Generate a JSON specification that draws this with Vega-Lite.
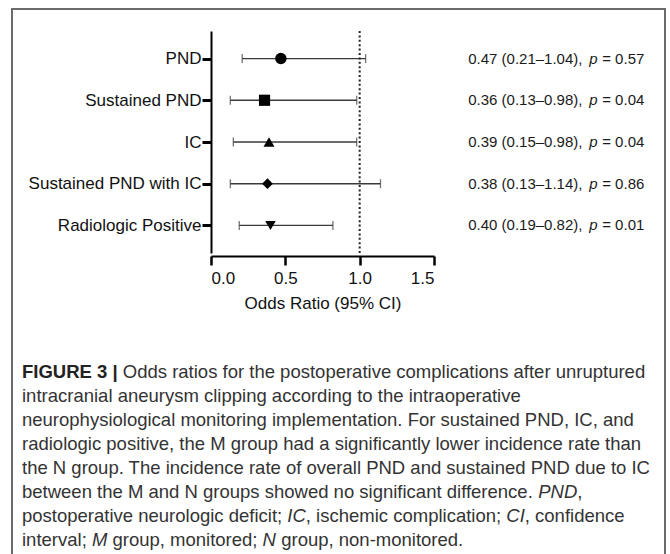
{
  "$schema": "https://vega.github.io/schema/vega-lite/v6.json",
  "width": 653,
  "height": 547,
  "autosize": {"type": "none"},
  "padding": {"left": 12, "top": 9, "right": 5, "bottom": -2},
  "background": "white",
  "config": {
    "view": {"stroke": "#6b6b6b", "strokeWidth": 2},
    "font": "Liberation Sans",
    "axis": {"grid": false}
  },
  "datasets": {
    "rows": [
      {"label": "PND", "or": 0.47, "lo": 0.21, "hi": 1.04, "ci": "0.47 (0.21–1.04),", "p": "= 0.57"},
      {"label": "Sustained PND", "or": 0.36, "lo": 0.13, "hi": 0.98, "ci": "0.36 (0.13–0.98),", "p": "= 0.04"},
      {"label": "IC", "or": 0.39, "lo": 0.15, "hi": 0.98, "ci": "0.39 (0.15–0.98),", "p": "= 0.04"},
      {"label": "Sustained PND with IC", "or": 0.38, "lo": 0.13, "hi": 1.14, "ci": "0.38 (0.13–1.14),", "p": "= 0.86"},
      {"label": "Radiologic Positive", "or": 0.40, "lo": 0.19, "hi": 0.82, "ci": "0.40 (0.19–0.82),", "p": "= 0.01"}
    ],
    "caption1": [
      {"line": 1, "bold": "FIGURE 3 |", "rest": "Odds ratios for the postoperative complications after unruptured"}
    ],
    "caption": [
      {"line": 2, "text": "intracranial aneurysm clipping according to the intraoperative"},
      {"line": 3, "text": "neurophysiological monitoring implementation. For sustained PND, IC, and"},
      {"line": 4, "text": "radiologic positive, the M group had a significantly lower incidence rate than"},
      {"line": 5, "text": "the N group. The incidence rate of overall PND and sustained PND due to IC"},
      {"line": 6, "text": "between the M and N groups showed no significant difference."},
      {"line": 7, "text": "postoperative neurologic deficit;"},
      {"line": 8, "text": "interval;"}
    ],
    "capseg": [
      {"line": 6, "seg": "a", "text": "PND"},
      {"line": 6, "seg": "b", "text": ","},
      {"line": 7, "seg": "a", "text": "IC"},
      {"line": 7, "seg": "b", "text": ", ischemic complication;"},
      {"line": 7, "seg": "c", "text": "CI"},
      {"line": 7, "seg": "d", "text": ", confidence"},
      {"line": 8, "seg": "a", "text": "M"},
      {"line": 8, "seg": "b", "text": "group, monitored;"},
      {"line": 8, "seg": "c", "text": "N"},
      {"line": 8, "seg": "d", "text": "group, non-monitored."}
    ]
  },
  "layer": [
    {
      "data": {"name": "rows"},
      "layer": [
        {
          "mark": {"type": "rule", "color": "#3a3a3a", "strokeWidth": 1.3},
          "encoding": {
            "y": {
              "field": "label", "type": "nominal",
              "scale": {"type": "point", "domain": ["PND", "Sustained PND", "IC", "Sustained PND with IC", "Radiologic Positive"], "range": [22, 244], "padding": 0.66},
              "axis": {"orient": "left", "offset": -199, "title": null, "domainColor": "black", "domainWidth": 2, "tickColor": "black", "tickWidth": 3, "tickSize": 9, "labelFontSize": 17, "labelColor": "#111", "labelPadding": 1, "labelFont": "Liberation Sans"}
            },
            "x": {
              "field": "lo", "type": "quantitative",
              "scale": {"domain": [0, 1.5], "range": [199, 422], "nice": false, "zero": false},
              "axis": {"orient": "bottom", "offset": -300, "values": [0, 0.5, 1.0, 1.5], "format": ".1f", "title": "Odds Ratio (95% CI)", "domainColor": "black", "domainWidth": 2, "tickColor": "black", "tickWidth": 2.5, "tickSize": 9, "labelFontSize": 17, "labelColor": "#111", "labelPadding": 5, "titleFontSize": 17, "titleFontWeight": "normal", "titleColor": "#111", "titlePadding": 9, "labelFont": "Liberation Sans", "titleFont": "Liberation Sans"}
            },
            "x2": {"field": "hi"}
          }
        },
        {
          "mark": {"type": "tick", "color": "#3a3a3a", "thickness": 1.3, "size": 9},
          "encoding": {
            "y": {"field": "label", "type": "nominal"},
            "x": {"field": "lo", "type": "quantitative"}
          }
        },
        {
          "mark": {"type": "tick", "color": "#3a3a3a", "thickness": 1.3, "size": 9},
          "encoding": {
            "y": {"field": "label", "type": "nominal"},
            "x": {"field": "hi", "type": "quantitative"}
          }
        },
        {
          "mark": {"type": "point", "filled": true, "color": "black", "opacity": 1},
          "encoding": {
            "y": {"field": "label", "type": "nominal"},
            "x": {"field": "or", "type": "quantitative"},
            "shape": {"field": "label", "type": "nominal", "scale": {"domain": ["PND", "Sustained PND", "IC", "Sustained PND with IC", "Radiologic Positive"], "range": ["circle", "square", "triangle-up", "diamond", "triangle-down"]}, "legend": null},
            "size": {"field": "label", "type": "nominal", "scale": {"domain": ["PND", "Sustained PND", "IC", "Sustained PND with IC", "Radiologic Positive"], "range": [130, 110, 115, 75, 115]}, "legend": null}
          }
        },
        {
          "mark": {"type": "text", "align": "left", "baseline": "middle", "fontSize": 15, "color": "#1a1a1a", "font": "Liberation Sans"},
          "encoding": {
            "y": {"field": "label", "type": "nominal"},
            "x": {"datum": 1.73, "type": "quantitative"},
            "text": {"field": "ci"}
          }
        },
        {
          "mark": {"type": "text", "align": "left", "baseline": "middle", "fontSize": 15, "fontStyle": "italic", "color": "#1a1a1a", "dx": 121, "font": "Liberation Sans"},
          "encoding": {
            "y": {"field": "label", "type": "nominal"},
            "x": {"datum": 1.73, "type": "quantitative"},
            "text": {"value": "p"}
          }
        },
        {
          "mark": {"type": "text", "align": "left", "baseline": "middle", "fontSize": 15, "color": "#1a1a1a", "dx": 134, "font": "Liberation Sans"},
          "encoding": {
            "y": {"field": "label", "type": "nominal"},
            "x": {"datum": 1.73, "type": "quantitative"},
            "text": {"field": "p"}
          }
        }
      ]
    },
    {
      "data": {"values": [{"ref": 1}]},
      "mark": {"type": "rule", "strokeDash": [2, 2.4], "strokeWidth": 2, "color": "#222"},
      "encoding": {
        "x": {"field": "ref", "type": "quantitative", "scale": {"domain": [0, 1.5], "range": [199, 422], "nice": false, "zero": false}, "axis": null},
        "y": {"datum": 0, "type": "quantitative", "scale": {"domain": [0, 1], "range": [22, 244], "nice": false, "zero": false}, "axis": null},
        "y2": {"datum": 1}
      }
    },
    {
      "layer": [
        {
          "data": {"name": "caption1"},
          "mark": {"type": "text", "align": "left", "baseline": "middle", "fontSize": 18.5, "fontWeight": "bold", "color": "#222", "font": "Liberation Sans"},
          "encoding": {
            "x": {"datum": 0, "type": "quantitative", "scale": {"domain": [0, 1], "range": [10, 653], "nice": false, "zero": false}, "axis": null},
            "y": {"field": "line", "type": "ordinal", "scale": {"type": "point", "domain": [1, 2, 3, 4, 5, 6, 7, 8], "range": [363, 531], "padding": 0}, "axis": null},
            "text": {"field": "bold"}
          }
        },
        {
          "data": {"name": "caption1"},
          "mark": {"type": "text", "align": "left", "baseline": "middle", "fontSize": 18.5, "color": "#333", "dx": 100.8, "font": "Liberation Sans"},
          "encoding": {
            "x": {"datum": 0, "type": "quantitative"},
            "y": {"field": "line", "type": "ordinal"},
            "text": {"field": "rest"}
          }
        },
        {
          "data": {"name": "caption"},
          "mark": {"type": "text", "align": "left", "baseline": "middle", "fontSize": 18.5, "color": "#333", "font": "Liberation Sans"},
          "encoding": {
            "x": {"datum": 0, "type": "quantitative"},
            "y": {"field": "line", "type": "ordinal"},
            "text": {"field": "text"}
          }
        },
        {
          "data": {"name": "capseg"},
          "transform": [{"filter": "datum.line == 6 && datum.seg == 'a'"}],
          "mark": {"type": "text", "align": "left", "baseline": "middle", "fontSize": 18.5, "fontStyle": "italic", "color": "#333", "dx": 516.2, "font": "Liberation Sans"},
          "encoding": {"x": {"datum": 0, "type": "quantitative"}, "y": {"field": "line", "type": "ordinal"}, "text": {"field": "text"}}
        },
        {
          "data": {"name": "capseg"},
          "transform": [{"filter": "datum.line == 6 && datum.seg == 'b'"}],
          "mark": {"type": "text", "align": "left", "baseline": "middle", "fontSize": 18.5, "color": "#333", "dx": 555.3, "font": "Liberation Sans"},
          "encoding": {"x": {"datum": 0, "type": "quantitative"}, "y": {"field": "line", "type": "ordinal"}, "text": {"field": "text"}}
        },
        {
          "data": {"name": "capseg"},
          "transform": [{"filter": "datum.line == 7 && datum.seg == 'a'"}],
          "mark": {"type": "text", "align": "left", "baseline": "middle", "fontSize": 18.5, "fontStyle": "italic", "color": "#333", "dx": 265.3, "font": "Liberation Sans"},
          "encoding": {"x": {"datum": 0, "type": "quantitative"}, "y": {"field": "line", "type": "ordinal"}, "text": {"field": "text"}}
        },
        {
          "data": {"name": "capseg"},
          "transform": [{"filter": "datum.line == 7 && datum.seg == 'b'"}],
          "mark": {"type": "text", "align": "left", "baseline": "middle", "fontSize": 18.5, "color": "#333", "dx": 283.8, "font": "Liberation Sans"},
          "encoding": {"x": {"datum": 0, "type": "quantitative"}, "y": {"field": "line", "type": "ordinal"}, "text": {"field": "text"}}
        },
        {
          "data": {"name": "capseg"},
          "transform": [{"filter": "datum.line == 7 && datum.seg == 'c'"}],
          "mark": {"type": "text", "align": "left", "baseline": "middle", "fontSize": 18.5, "fontStyle": "italic", "color": "#333", "dx": 484.3, "font": "Liberation Sans"},
          "encoding": {"x": {"datum": 0, "type": "quantitative"}, "y": {"field": "line", "type": "ordinal"}, "text": {"field": "text"}}
        },
        {
          "data": {"name": "capseg"},
          "transform": [{"filter": "datum.line == 7 && datum.seg == 'd'"}],
          "mark": {"type": "text", "align": "left", "baseline": "middle", "fontSize": 18.5, "color": "#333", "dx": 502.8, "font": "Liberation Sans"},
          "encoding": {"x": {"datum": 0, "type": "quantitative"}, "y": {"field": "line", "type": "ordinal"}, "text": {"field": "text"}}
        },
        {
          "data": {"name": "capseg"},
          "transform": [{"filter": "datum.line == 8 && datum.seg == 'a'"}],
          "mark": {"type": "text", "align": "left", "baseline": "middle", "fontSize": 18.5, "fontStyle": "italic", "color": "#333", "dx": 69.9, "font": "Liberation Sans"},
          "encoding": {"x": {"datum": 0, "type": "quantitative"}, "y": {"field": "line", "type": "ordinal"}, "text": {"field": "text"}}
        },
        {
          "data": {"name": "capseg"},
          "transform": [{"filter": "datum.line == 8 && datum.seg == 'b'"}],
          "mark": {"type": "text", "align": "left", "baseline": "middle", "fontSize": 18.5, "color": "#333", "dx": 90.5, "font": "Liberation Sans"},
          "encoding": {"x": {"datum": 0, "type": "quantitative"}, "y": {"field": "line", "type": "ordinal"}, "text": {"field": "text"}}
        },
        {
          "data": {"name": "capseg"},
          "transform": [{"filter": "datum.line == 8 && datum.seg == 'c'"}],
          "mark": {"type": "text", "align": "left", "baseline": "middle", "fontSize": 18.5, "fontStyle": "italic", "color": "#333", "dx": 240.6, "font": "Liberation Sans"},
          "encoding": {"x": {"datum": 0, "type": "quantitative"}, "y": {"field": "line", "type": "ordinal"}, "text": {"field": "text"}}
        },
        {
          "data": {"name": "capseg"},
          "transform": [{"filter": "datum.line == 8 && datum.seg == 'd'"}],
          "mark": {"type": "text", "align": "left", "baseline": "middle", "fontSize": 18.5, "color": "#333", "dx": 259.2, "font": "Liberation Sans"},
          "encoding": {"x": {"datum": 0, "type": "quantitative"}, "y": {"field": "line", "type": "ordinal"}, "text": {"field": "text"}}
        }
      ]
    }
  ],
  "resolve": {"scale": {"x": "independent", "y": "independent"}}
}
